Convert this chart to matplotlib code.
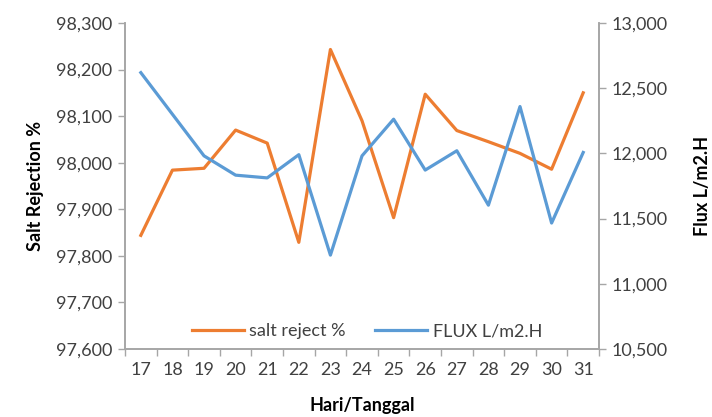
import matplotlib.pyplot as plt
from matplotlib.ticker import FuncFormatter, FixedLocator

days = ['17', '18', '19', '20', '21', '22', '23', '24', '25', '26', '27', '28', '29', '30', '31']
salt_reject = [97844, 97984, 97988, 98070, 98042, 97829, 98243, 98090,
               97882, 98147, 98069, 98045, 98020, 97986, 98150]
flux = [12619, 12300, 11981, 11833, 11812, 11990, 11220, 11981,
        12262, 11872, 12020, 11603, 12359, 11466, 12007]

ORANGE = '#ED7D31'
BLUE = '#5B9BD5'
AXIS_GRAY = '#A6A6A6'
TEXT = '#404040'

plt.rcParams['font.family'] = ['Lato', 'DejaVu Sans']

fig = plt.figure(figsize=(7.12, 4.17), dpi=100)
ax = fig.add_axes([0.1756, 0.163, 0.8413 - 0.1756, 0.945 - 0.163])
ax2 = ax.twinx()

x = list(range(len(days)))
l1, = ax.plot(x, salt_reject, color=ORANGE, lw=2.3, label='salt reject %')
l2, = ax2.plot(x, flux, color=BLUE, lw=2.3, label='FLUX L/m2.H')

comma = FuncFormatter(lambda v, p: '{:,.0f}'.format(v))

ax.set_xlim(-0.5, len(days) - 0.5)
ax.set_ylim(97600, 98300)
ax.set_yticks(range(97600, 98301, 100))
ax.yaxis.set_major_formatter(comma)
ax2.set_ylim(10500, 13000)
ax2.set_yticks(range(10500, 13001, 500))
ax2.yaxis.set_major_formatter(comma)

# category axis: ticks between categories, labels at centres
ax.xaxis.set_major_locator(FixedLocator([i - 0.5 for i in range(len(days) + 1)]))
ax.xaxis.set_minor_locator(FixedLocator(x))
ax.set_xticklabels([''] * (len(days) + 1))
ax.set_xticklabels(days, minor=True)
ax.tick_params(axis='x', which='major', length=5, width=1, color=AXIS_GRAY, direction='out')
ax.tick_params(axis='x', which='minor', length=0, pad=9, labelsize=13, labelcolor=TEXT)

ax.tick_params(axis='y', length=5, width=1, color=AXIS_GRAY, labelsize=13, labelcolor=TEXT, pad=4)
ax2.tick_params(axis='y', length=5, width=1, color=AXIS_GRAY, labelsize=13, labelcolor=TEXT, pad=4)

for a in (ax, ax2):
    a.spines['top'].set_visible(False)
    for s in ('left', 'right', 'bottom'):
        a.spines[s].set_color(AXIS_GRAY)
        a.spines[s].set_linewidth(1.2)

ax.set_ylabel('Salt Rejection %', fontsize=13, fontweight='bold', color='black', labelpad=9)
ax2.set_ylabel('Flux L/m2.H', fontsize=13, fontweight='bold', color='black', rotation=90, labelpad=19)
ax.set_xlabel('Hari/Tanggal', fontsize=13, fontweight='bold', color='black', labelpad=14)

leg = ax.legend(handles=[l1, l2], loc='lower center', ncol=2, frameon=False,
                fontsize=13, handlelength=2.9, handletextpad=0.3, columnspacing=1.6,
                bbox_to_anchor=(0.51, -0.02))
for t in leg.get_texts():
    t.set_color(TEXT)

fig.savefig('out.png', dpi=100)
